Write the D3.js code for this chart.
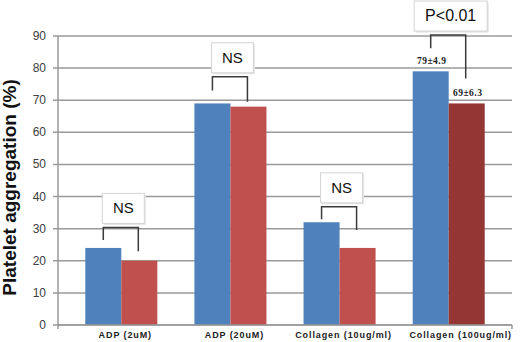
<!DOCTYPE html>
<html>
<head>
<meta charset="utf-8">
<script src="https://cdn.jsdelivr.net/npm/d3@7"></script>
<style>
  body { margin: 0; background: #fff; }
  svg { display: block; font-family: "Liberation Sans", Arial, sans-serif; }
</style>
</head>
<body>
<svg id="chart" width="520" height="342"></svg>
<script>
var categories = ['ADP (2uM)', 'ADP (20uM)', 'Collagen (10ug/ml)', 'Collagen (100ug/ml)'];
var seriesKeys = ['before', 'after'];
var beforeValues = [24, 69, 32, 79];
var afterValues = [20, 68, 24, 69];
var yTicks = [0, 10, 20, 30, 40, 50, 60, 70, 80, 90];

// significance brackets (data units)
var bracketLevels = [30.4, 77.3, 36.8, 90.3];
var leftLegEnds = [26.5, 73, 32.9, 86.2];
var rightLegEnds = [23, 69.5, 29.6, 76.8];
var sigLabels = ['NS', 'NS', 'NS', 'P<0.01'];
var valueLabels = [null, null, null, ['79\u00b14.9', '69\u00b16.3']];

var svg = d3.select('#chart');
var margin = { left: 58, right: 8, top: 36, bottom: 17 };
var width = 520, height = 342;

var x = d3.scaleBand()
  .domain(categories)
  .range([margin.left, width - margin.right])
  .paddingInner(0.34)
  .paddingOuter(0.25);

var xSub = d3.scaleBand()
  .domain(seriesKeys)
  .range([0, x.bandwidth()]);

var y = d3.scaleLinear()
  .domain([0, 90])
  .range([height - margin.bottom, margin.top]);

var colors = { before: '#4f81bd', after: '#c0504d' };
var darkRed = '#943634';

// gridlines
svg.append('g')
  .selectAll('line')
  .data(yTicks)
  .join('line')
  .attr('x1', margin.left - 5)
  .attr('x2', width - margin.right)
  .attr('y1', function (d) { return y(d); })
  .attr('y2', function (d) { return y(d); })
  .attr('stroke', '#9a9a9a')
  .attr('stroke-width', 1.5);

// y axis line
svg.append('line')
  .attr('x1', margin.left).attr('x2', margin.left)
  .attr('y1', y(90)).attr('y2', y(0))
  .attr('stroke', '#9a9a9a').attr('stroke-width', 1.5);

// y tick labels
svg.append('g')
  .selectAll('text')
  .data(yTicks)
  .join('text')
  .attr('x', 46)
  .attr('y', function (d) { return y(d) + 4; })
  .attr('text-anchor', 'end')
  .attr('font-size', 12)
  .attr('fill', '#404040')
  .text(function (d) { return d; });

// y title
svg.append('text')
  .attr('transform', 'translate(16,' + ((y(0) + y(90)) / 2 + 7) + ') rotate(-90)')
  .attr('text-anchor', 'middle')
  .attr('font-size', 19)
  .attr('font-weight', 'bold')
  .attr('fill', '#111')
  .text('Platelet aggregation (%)');

// bars
var rows = categories.map(function (c, i) {
  return { cat: c, i: i, before: beforeValues[i], after: afterValues[i] };
});

var groups = svg.append('g')
  .selectAll('g')
  .data(rows)
  .join('g')
  .attr('transform', function (d) { return 'translate(' + x(d.cat) + ',0)'; });

groups.selectAll('rect')
  .data(function (d) {
    return seriesKeys.map(function (k) { return { key: k, value: d[k], i: d.i }; });
  })
  .join('rect')
  .attr('x', function (d) { return xSub(d.key); })
  .attr('width', xSub.bandwidth())
  .attr('y', function (d) { return y(d.value); })
  .attr('height', function (d) { return y(0) - y(d.value); })
  .attr('fill', function (d) {
    if (d.key === 'after' && d.i === 3) return darkRed;
    return colors[d.key];
  });

// x axis line and end ticks
svg.append('line')
  .attr('x1', margin.left).attr('x2', width - margin.right)
  .attr('y1', y(0)).attr('y2', y(0))
  .attr('stroke', '#9a9a9a').attr('stroke-width', 1.5);

var bounds = [margin.left, width - margin.right];
svg.append('g')
  .selectAll('line')
  .data(bounds)
  .join('line')
  .attr('x1', function (d) { return d; })
  .attr('x2', function (d) { return d; })
  .attr('y1', y(0)).attr('y2', y(0) + 4)
  .attr('stroke', '#9a9a9a').attr('stroke-width', 1.5);

// x labels
svg.append('g')
  .selectAll('text')
  .data(categories)
  .join('text')
  .attr('x', function (d, i) { return x(d) + x.bandwidth() / 2 + (i === 3 ? 12 : 4); })
  .attr('y', 338)
  .attr('text-anchor', 'middle')
  .attr('font-size', 9)
  .attr('font-weight', 'bold')
  .attr('letter-spacing', 0.9)
  .attr('fill', '#222')
  .text(function (d) { return d; });

// brackets + labels
var ann = svg.append('g');
rows.forEach(function (d, i) {
  var xl = x(d.cat) + xSub('before') + xSub.bandwidth() / 2;
  var xr = x(d.cat) + xSub('after') + xSub.bandwidth() / 2 - 1;
  var yb = y(bracketLevels[i]);
  ann.append('path')
    .attr('d', 'M' + xl + ',' + y(leftLegEnds[i]) + 'V' + yb + 'H' + xr + 'V' + y(rightLegEnds[i]))
    .attr('fill', 'none')
    .attr('stroke', '#3a3a3a')
    .attr('stroke-width', 1.5);

  var bw = sigLabels[i].length > 2 ? 73 : 42;
  var cx = (xl + xr) / 2 + 2.5;
  var bx = cx - bw / 2, by = yb - 34;
  ann.append('rect')
    .attr('x', bx + 1.5).attr('y', by + 1.5)
    .attr('width', bw).attr('height', 30)
    .attr('fill', '#e6e6e6');
  ann.append('rect')
    .attr('x', bx).attr('y', by)
    .attr('width', bw).attr('height', 30)
    .attr('fill', '#fff')
    .attr('stroke', '#d4d4d4')
    .attr('stroke-width', 1);
  ann.append('text')
    .attr('x', cx).attr('y', by + 20)
    .attr('text-anchor', 'middle')
    .attr('font-size', sigLabels[i].length > 2 ? 16 : 15)
    .attr('fill', '#111')
    .text(sigLabels[i]);

  if (valueLabels[i]) {
    [['before', beforeValues[i]], ['after', afterValues[i]]].forEach(function (s, j) {
      ann.append('text')
        .attr('x', x(d.cat) + xSub(s[0]) + xSub.bandwidth() / 2 + 1)
        .attr('y', y(s[1]) - 7)
        .attr('text-anchor', 'middle')
        .attr('font-family', '"Liberation Serif", serif')
        .attr('font-size', 9.5)
        .attr('font-weight', 'bold')
        .attr('letter-spacing', 0.5)
        .attr('fill', '#222')
        .text(valueLabels[i][j]);
    });
  }
});
</script>
</body>
</html>
